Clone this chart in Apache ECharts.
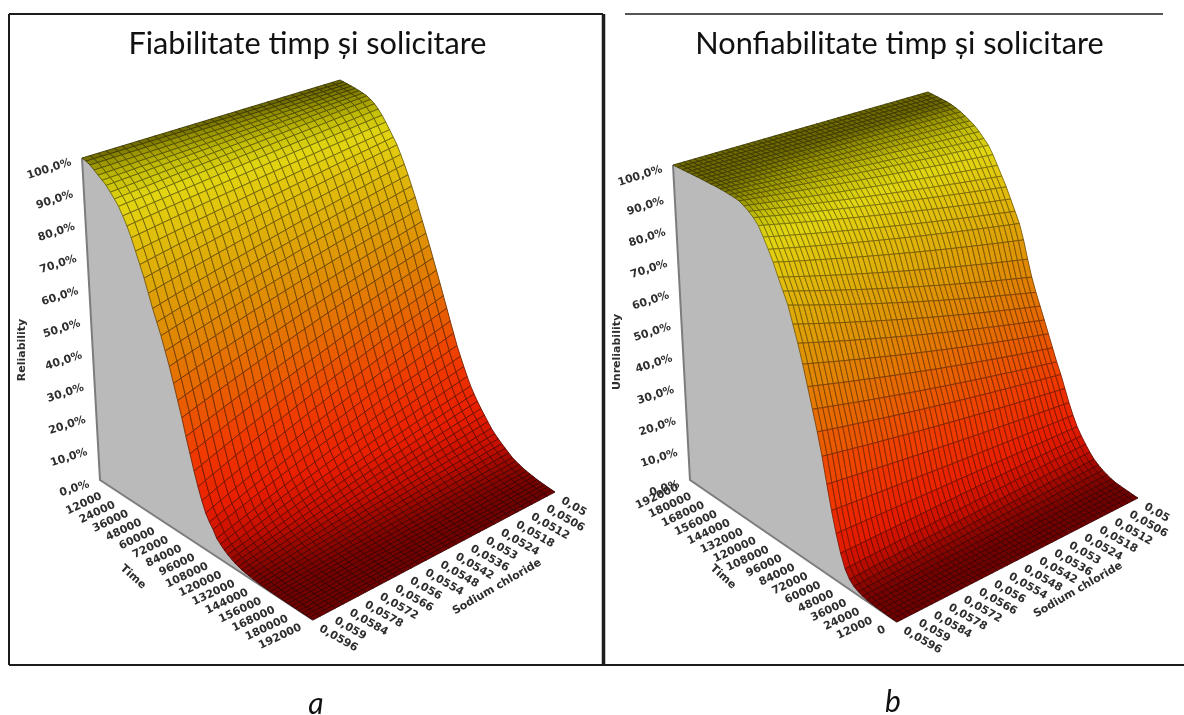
<!DOCTYPE html>
<html><head><meta charset="utf-8">
<style>html,body{margin:0;padding:0;background:#fff}
#c,#t{position:absolute;left:0;top:0;width:1184px;height:715px}
#c{filter:blur(.6px)}#t{pointer-events:none}</style>
<script src="https://cdn.jsdelivr.net/npm/echarts@6/dist/echarts.min.js"></script>
</head><body><div id="c"></div><div id="t"></div>
<script>
// ---- values (percent) ----
const reliabilityTicks = ['0,0%','10,0%','20,0%','30,0%','40,0%','50,0%','60,0%','70,0%','80,0%','90,0%','100,0%'];
const timeTicksA = [12000,24000,36000,48000,60000,72000,84000,96000,108000,120000,132000,144000,156000,168000,180000,192000];
const timeTicksB = [192000,180000,168000,156000,144000,132000,120000,108000,96000,84000,72000,60000,48000,36000,24000,12000,0];
const stressTicks = ['0,0596','0,059','0,0584','0,0578','0,0572','0,0566','0,056','0,0554','0,0548','0,0542','0,0536','0,053','0,0524','0,0518','0,0512','0,0506','0,05'];
// one value per mesh row, at the near and the far edge of the stress axis
const reliabilityNear = [100,99.6,99,98,97,96,95,93.5,92,90.3,88,85.5,82.5,79,75.5,72,68,64,60.5,57,53,49,44.5,40,35.5,30.5,26,21.5,17.5,14,11,9,7.5,5.5,4.5,3.5,2.8,2.2,1.7,1.3,1,.8,.6,.45,.35,.25,.2,.15,.1,.07,.05,.03,.02,.01,0,0,0,0,0,0,0];
const reliabilityFar = [100,99.95,99.9,99.8,99.7,99.5,99.3,99,98.4,97.5,96.3,94.8,93,91,89,87,84.3,81.5,78.5,75.2,72,68.5,65,61.5,58,54.3,50.7,47,43.3,39.7,36,32.5,29,26,23.2,20.5,18,16,14.2,12.5,11,9.5,8,6.9,5.9,5,4.2,3.4,2.6,2.1,1.7,1.3,1,.8,.6,.4,.3,.2,.1,.05,0];
const unreliabilityNear = [100,100,100,100,100,100,100,99.95,99.9,99.9,99.8,99.7,99.5,99.3,99,98.2,97.2,96,94.3,91.5,88.5,85.3,81.5,78,74.5,69.5,64.5,59,53,47,41,34.5,27,20,14,9,5.2,3,1.8,1.1,.7,.4,.25,.15,.1,.05,0,0,0];
const unreliabilityFar = [100,100,100,100,100,99.8,99.4,98.9,98.2,97.4,96.5,95.2,93.6,92,89.5,86.5,83.5,80.5,77,73.5,70,65,59,53.5,49,45,41,37,33,29,25.5,21.5,17.5,14,11,8.7,6.8,5,3.5,2.5,1.7,1.1,.6,.3,.2,.1,.05,0,0];

// ---- layout of the two perspective boxes ----
const boxA = {A:[100,480],B:[313,620],C:[555,492],D:[340,358],uA:[-18,-322],uB:[3,-350],uC:[15,-300],uD:[0,-278]};
const boxB = {A:[690,480],B:[897,622],C:[1138,498],D:[925,360],uA:[-17,-315],uB:[2,-345],uC:[15,-290],uD:[3,-268]};
const lab = '"DejaVu Sans"';
const labelFont = 'bold 11px ' + lab;
const ink = '#2e2e2e';

function mix(p,q,k){return [p[0]+(q[0]-p[0])*k,p[1]+(q[1]-p[1])*k];}
function project(b,t,s,z){
  const floor = mix(mix(b.A,b.B,t),mix(b.D,b.C,t),s);
  const up = mix(mix(b.uA,b.uB,t),mix(b.uD,b.uC,t),s);
  return [floor[0]+up[0]*z/100,floor[1]+up[1]*z/100];
}
const stops=[[0,[112,0,0]],[1.5,[140,6,0]],[5,[196,14,0]],[12,[232,30,0]],[25,[240,58,0]],[40,[232,98,0]],[55,[224,134,4]],[70,[222,166,8]],[85,[226,200,14]],[91,[226,214,18]],[96,[196,190,8]],[99,[150,145,0]],[100,[110,105,0]]];
function rgbOf(z){
  for(let i=1;i<stops.length;i++){ if(z<=stops[i][0]){
    const a=stops[i-1],b=stops[i],k=(z-a[0])/(b[0]-a[0]);
    return a[1].map((v,n)=>Math.round(v+(b[1][n]-v)*k));
  }}
  return stops[stops.length-1][1];
}
function surface(box,near,far,cols,lineShade){
  const n=near.length-1;
  return {type:'custom',coordinateSystem:'cartesian2d',silent:true,clip:false,progressive:0,animation:false,
    data:near.slice(0,n).map((_,i)=>[i]),encode:{x:0,y:0},
    renderItem(params,api){
      const i=api.value(0),children=[];
      const zz=(r,s)=>near[r]+(far[r]-near[r])*s;
      const P=(r,s)=>api.coord(project(box,r/n,s,zz(r,s)));
      for(let j=0;j<cols;j++){
        const s0=j/cols,s1=(j+1)/cols,rgb=rgbOf((zz(i,s0)+zz(i+1,s1))/2);
        children.push({type:'polygon',shape:{points:[P(i,s0),P(i,s1),P(i+1,s1),P(i+1,s0)]},
          style:{fill:'rgb('+rgb.join(',')+')',stroke:'rgb('+rgb.map(v=>Math.round(v*lineShade)).join(',')+')',lineWidth:.9}});
      }
      return {type:'group',children};
    }};
}
function wall(box,near){
  const n=near.length-1;
  return {type:'custom',coordinateSystem:'cartesian2d',silent:true,clip:false,animation:false,data:[[0]],encode:{x:0,y:0},
    renderItem(params,api){
      const pts=near.map((z,r)=>api.coord(project(box,r/n,0,z)));
      pts.push(api.coord(box.A));
      const a=api.coord(box.A),top=api.coord(project(box,0,0,100)),b=api.coord(box.B);
      return {type:'group',children:[
        {type:'polygon',shape:{points:pts},style:{fill:'#bababa'}},
        {type:'polyline',shape:{points:[top,a,b]},style:{fill:null,stroke:'#7c7c7c',lineWidth:2}}
      ]};
    }};
}
function labels(box,timeTicks,timePos,yTitle,timeAt,stressAt,yAt){
  return {type:'custom',coordinateSystem:'cartesian2d',silent:true,clip:false,animation:false,data:[[0]],encode:{x:0,y:0},z:5,
    renderItem(params,api){
      const out=[];
      const text=(p,dx,dy,rot,str,align,font)=>{const c=api.coord([p[0]+dx,p[1]+dy]);
        out.push({type:'text',x:c[0],y:c[1],rotation:rot*Math.PI/180,style:{text:str,fill:ink,font:font||labelFont,align:align,verticalAlign:'middle'}});};
      reliabilityTicks.forEach((t,i)=>text(project(box,0,0,i*10),-11,4,18,t,'right'));
      timeTicks.forEach((t,i)=>text(project(box,timePos(i),0,0),-12,7,25,String(t),'right'));
      stressTicks.forEach((t,i)=>text(project(box,1,i/16,0),7,8,-30,t,'left'));
      text(timeAt,0,0,-42,'Time','center');
      text(stressAt,0,0,30,'Sodium chloride','center');
      text(yAt,0,0,90,yTitle,'center');
      return {type:'group',children:out};
    }};
}
const frameLine=(x1,y1,x2,y2,w)=>({type:'line',shape:{x1,y1,x2,y2},style:{stroke:'#1c1c1c',lineWidth:w},silent:true});
const heading=(text,left,top,style)=>({text,left,top,textAlign:'center',textStyle:Object.assign({fontFamily:'Lato',fontWeight:400,color:'#111'},style)});

echarts.init(document.getElementById('c'),null,{renderer:'canvas'}).setOption({
  animation:false,
  grid:{left:0,right:0,top:0,bottom:0},
  xAxis:{type:'value',min:0,max:1184,show:false},
  yAxis:{type:'value',min:0,max:715,inverse:true,show:false},
  series:[
    wall(boxA,reliabilityNear),
    surface(boxA,reliabilityNear,reliabilityFar,32,.5),
    labels(boxA,timeTicksA,i=>(i+1)/16,'Reliability',[133,577],[497,587],[22,350]),
    wall(boxB,unreliabilityNear),
    surface(boxB,unreliabilityNear,unreliabilityFar,48,.55),
    labels(boxB,timeTicksB,i=>i/16,'Unreliability',[723,577],[1078,590],[617,352])
  ]
});
echarts.init(document.getElementById('t'),null,{renderer:'canvas'}).setOption({
  animation:false,
  backgroundColor:'transparent',
  title:[
    heading('Fiabilitate timp și solicitare',302.5,24,{fontSize:30.7}),
    heading('Nonfiabilitate timp și solicitare',894.5,24,{fontSize:30.7}),
    heading('a',311,684,{fontSize:30,fontStyle:'italic'}),
    heading('b',888,682,{fontSize:30,fontStyle:'italic'})
  ],
  graphic:[
    frameLine(9,14,603,14,2),frameLine(9,14,9,665,2),frameLine(9,665,1184,665,2),frameLine(603.5,14,603.5,665,3.5),frameLine(625,14,1163,14,1.5)
  ]
});
</script></body></html>
